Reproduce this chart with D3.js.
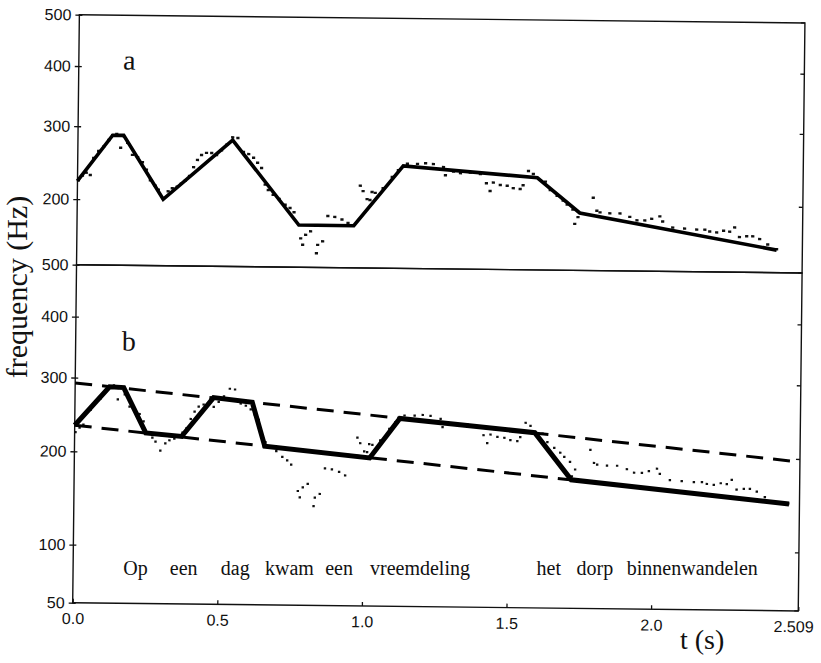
<!DOCTYPE html>
<html>
<head>
<meta charset="utf-8">
<script src="https://cdn.jsdelivr.net/npm/d3@7"></script>
<style>
  body { margin: 0; background: #fff; }
  svg { display: block; }
</style>
</head>
<body>
<svg id="chart" width="821" height="663"></svg>
<script>
// Measured F0 (pitch) of the utterance: time in s, frequency in Hz
const f0Time = [0.003,0.017,0.030,0.044,0.055,0.072,0.089,0.107,0.120,0.134,
  0.148,0.158,0.172,0.189,0.207,0.224,0.238,0.252,0.269,0.280,
  0.297,0.314,0.328,0.345,0.359,0.373,0.387,0.401,0.414,0.428,
  0.445,0.463,0.480,0.497,0.515,0.535,0.553,0.573,0.591,0.608,
  0.622,0.636,0.649,0.660,0.677,0.698,0.719,0.736,0.750,0.774,
  0.781,0.791,0.808,0.829,0.833,0.850,0.867,0.891,0.916,0.937,
  0.978,0.988,1.002,1.012,1.019,1.030,1.057,1.088,1.109,1.140,
  1.175,1.203,1.230,1.265,1.272,1.300,1.324,1.358,1.393,1.414,
  1.427,1.438,1.462,1.486,1.507,1.531,1.541,1.559,1.576,1.618,
  1.635,1.659,1.680,1.694,1.714,1.721,1.732,1.784,1.797,1.808,
  1.842,1.877,1.911,1.936,1.963,1.987,2.015,2.025,2.060,2.101,
  2.143,2.171,2.188,2.212,2.236,2.257,2.274,2.291,2.316,2.337,
  2.361,2.389,2.420];
const f0Hz = [224,230,234,231,254,264,270,280,287,289,
  269,286,276,259,256,249,239,225,218,213,
  202,211,215,217,221,225,231,243,253,260,
  263,263,260,267,275,286,285,265,262,257,
  250,243,221,214,208,203,196,192,187,157,
  150,161,165,141,150,154,183,182,179,175,
  221,214,204,203,213,212,218,233,242,251,
  251,252,251,247,236,241,239,240,238,226,
  216,227,224,223,220,219,224,243,239,229,
  218,211,205,200,194,177,185,209,193,191,
  190,190,186,182,182,184,187,181,174,173,
  172,172,170,169,171,170,175,164,165,165,
  162,156,151];

// (a) close-copy stylization
const styleATime = [0, 0.120, 0.158, 0.297, 0.535, 0.767, 0.957, 1.126, 1.590, 1.738, 2.420];
const styleAHz   = [223, 287, 287, 201, 282, 172, 172, 248, 234, 190, 150];

// (b) stylization between two declination lines
const styleBTime = [0, 0.119, 0.168, 0.246, 0.370, 0.479, 0.613, 0.658, 1.021, 1.124, 1.591, 1.719, 2.473];
const styleBHz   = [233, 287, 286, 224, 220, 273, 267, 209, 196, 247, 230, 173, 149];

// declination lines (start / end of utterance)
const declTime      = [0, 2.509];
const declTopHz     = [292, 197];
const declBottomHz  = [233, 148];

// axes
const xTicks      = [0, 0.5, 1.0, 1.5, 2.0, 2.509];
const xTickLabels = ["0.0", "0.5", "1.0", "1.5", "2.0", "2.509"];
const yTicksA     = [200, 300, 400, 500];
const yTicksB     = [50, 100, 200, 300, 400, 500];

// words of the sentence and their onsets (s)
const words      = ["Op", "een", "dag", "kwam", "een", "vreemdeling", "het", "dorp", "binnenwandelen"];
const wordOnsets = [0.175, 0.336, 0.512, 0.665, 0.873, 1.028, 1.604, 1.742, 1.916];

// ---------------------------------------------------------------
const svg = d3.select("#chart");
const X0 = 72.7, X1 = 798.3, YT = 14.7, YMID = 264.7, YB = 602.7;
const erb = f => 21.4 * Math.log10(1 + 0.00437 * f);   // ERB-rate scale

const x  = d3.scaleLinear().domain([0, 2.509]).range([X0, X1]);
const yA = d3.scaleLinear().domain([erb(126.2), erb(500)]).range([YMID, YT]);
const yB = d3.scaleLinear().domain([erb(50), erb(500)]).range([YB, YMID]);

const sans = "'Liberation Sans', Arial, Helvetica, sans-serif";
const serif = "'Liberation Serif', 'Times New Roman', Times, serif";

const plot = svg.append("g").attr("transform", `rotate(0.65 ${X0} ${YB})`);

// panel frames
plot.append("rect").attr("x", X0).attr("y", YT).attr("width", X1 - X0).attr("height", YMID - YT)
  .attr("fill", "none").attr("stroke", "#111").attr("stroke-width", 1.4);
plot.append("rect").attr("x", X0).attr("y", YMID).attr("width", X1 - X0).attr("height", YB - YMID)
  .attr("fill", "none").attr("stroke", "#111").attr("stroke-width", 1.4);

function styleAxis(g) {
  g.select(".domain").remove();
  g.selectAll("text").attr("font-family", sans).attr("font-size", 16).attr("fill", "#111");
  g.selectAll("line").attr("stroke", "#111").attr("stroke-width", 1.3);
}

function leftAxis(scale, ticks) {
  const ax = d3.axisLeft(scale)
    .tickValues(ticks.map(erb))
    .tickFormat((d, i) => ticks[i])
    .tickSize(4).tickSizeOuter(0).tickPadding(4);
  const g = plot.append("g").attr("transform", `translate(${X0},0)`).call(ax).call(styleAxis);
  g.selectAll(".tick line").attr("x1", 3);
  // inward ticks on the right border
  plot.append("g").selectAll("line").data(ticks).join("line")
    .attr("x1", X1).attr("x2", X1 - 4)
    .attr("y1", d => scale(erb(d))).attr("y2", d => scale(erb(d)))
    .attr("stroke", "#111").attr("stroke-width", 1.3);
}
leftAxis(yA, yTicksA);
leftAxis(yB, yTicksB);

const xAxis = d3.axisBottom(x)
  .tickValues(xTicks)
  .tickFormat((d, i) => xTickLabels[i])
  .tickSize(-4).tickSizeOuter(0).tickPadding(10);
const gx = plot.append("g").attr("transform", `translate(0,${YB})`).call(xAxis).call(styleAxis);
gx.selectAll(".tick text").filter((d, i) => i === xTicks.length - 1).attr("dx", -5);

// data
const f0 = f0Time.map((t, i) => ({ t, hz: f0Hz[i] }));
const styleA = styleATime.map((t, i) => ({ t, hz: styleAHz[i] }));
const styleB = styleBTime.map((t, i) => ({ t, hz: styleBHz[i] }));
const declTop = declTime.map((t, i) => ({ t, hz: declTopHz[i] }));
const declBot = declTime.map((t, i) => ({ t, hz: declBottomHz[i] }));

const lineA = d3.line().x(d => x(d.t)).y(d => yA(erb(d.hz)));
const lineB = d3.line().x(d => x(d.t)).y(d => yB(erb(d.hz)));

// panel a
plot.append("g").selectAll("rect").data(f0).join("rect")
  .attr("x", d => x(d.t) - 1.6).attr("y", d => yA(erb(d.hz)) - 1.2)
  .attr("width", 3.2).attr("height", 2.4).attr("fill", "#111");
plot.append("path").datum(styleA).attr("d", lineA)
  .attr("fill", "none").attr("stroke", "#000").attr("stroke-width", 3.6)
  .attr("stroke-linejoin", "miter");

// panel b
plot.append("g").selectAll("rect").data(f0).join("rect")
  .attr("x", d => x(d.t) - 1.2).attr("y", d => yB(erb(d.hz)) - 1.1)
  .attr("width", 2.4).attr("height", 2.2).attr("fill", "#111");
[declTop, declBot].forEach(dl => {
  plot.append("path").datum(dl).attr("d", lineB)
    .attr("fill", "none").attr("stroke", "#000").attr("stroke-width", 3)
    .attr("stroke-dasharray", "17,10");
});
plot.append("path").datum(styleB).attr("d", lineB)
  .attr("fill", "none").attr("stroke", "#000").attr("stroke-width", 5)
  .attr("stroke-linejoin", "miter");

// panel letters
plot.append("text").attr("x", 117).attr("y", 69).text("a")
  .attr("font-family", serif).attr("font-size", 28).attr("fill", "#111");
plot.append("text").attr("x", 119).attr("y", 350).text("b")
  .attr("font-family", serif).attr("font-size", 28).attr("fill", "#111");

// sentence
svg.append("g").selectAll("text").data(words).join("text")
  .attr("x", (d, i) => x(wordOnsets[i])).attr("y", 575)
  .attr("font-family", serif).attr("font-size", 20).attr("fill", "#111")
  .text(d => d);

// axis titles
svg.append("text").attr("transform", "translate(27,287) rotate(-90)")
  .attr("text-anchor", "middle").attr("font-family", serif).attr("font-size", 30)
  .attr("fill", "#111").text("frequency (Hz)");
svg.append("text").attr("x", 680).attr("y", 649)
  .attr("font-family", serif).attr("font-size", 28).attr("fill", "#111").text("t (s)");
</script>
</body>
</html>
